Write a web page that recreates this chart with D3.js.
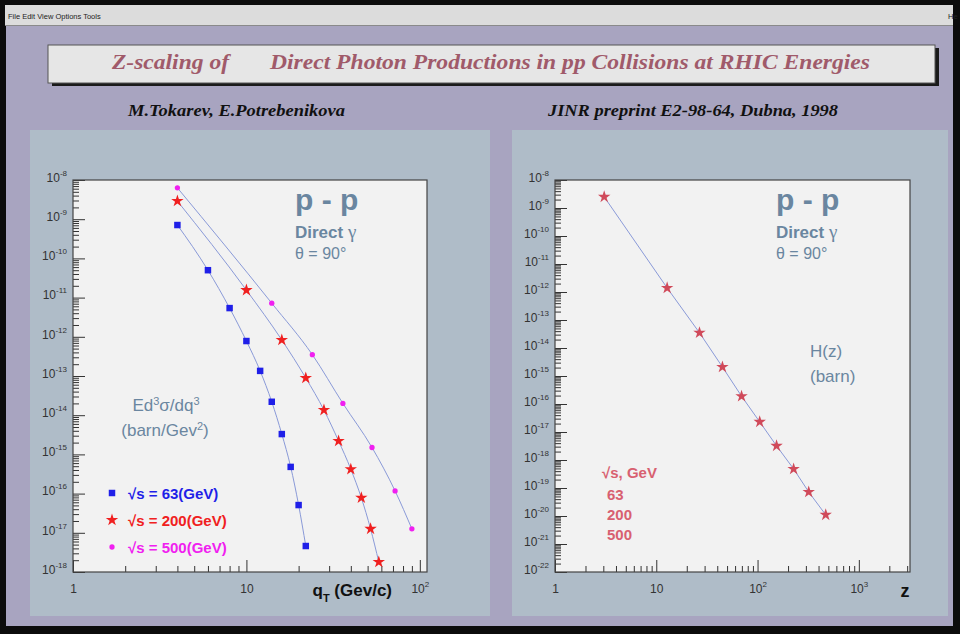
<!DOCTYPE html>
<html>
<head>
<meta charset="utf-8">
<script src="https://cdn.jsdelivr.net/npm/d3@7"></script>
<style>
  html, body { margin: 0; padding: 0; background: #0c0c0c; }
  svg { display: block; }
</style>
</head>
<body>
<svg id="chart" width="960" height="634"></svg>
<script>
// ---- data: invariant cross section Ed3σ/dq3 vs qT (barn/GeV^2) ----
const qt63 = [4, 6, 8, 10, 12, 14, 16, 18, 20, 22];
const xs63 = [7.1e-10, 5.0e-11, 5.4e-12, 7.8e-13, 1.35e-13, 2.2e-14, 3.3e-15, 4.8e-16, 5.1e-17, 4.6e-18];

const qt200 = [4, 10, 16, 22, 28, 34, 40, 46, 52, 58];
const xs200 = [2.9e-9, 1.55e-11, 8.3e-13, 8.9e-14, 1.35e-14, 2.2e-15, 4.2e-16, 7.8e-17, 1.26e-17, 1.8e-18];

const qt500 = [4, 14, 24, 36, 53, 72, 90];
const xs500 = [6.3e-9, 7.2e-12, 3.5e-13, 2.0e-14, 1.5e-15, 1.17e-16, 1.26e-17];

// ---- scaling function H(z) (barn) ----
const zVals = [3.06, 12.8, 26.7, 45, 69.5, 105, 154, 227, 320, 471];
const hVals = [2.5e-9, 1.4e-12, 3.5e-14, 2.1e-15, 1.9e-16, 2.3e-17, 3.2e-18, 4.8e-19, 7.2e-20, 1.1e-20];

const legendLabels = ["\u221As = 63(GeV)", "\u221As = 200(GeV)", "\u221As = 500(GeV)"];
const energyLabels = ["63", "200", "500"];

const leftXTicks = [1, 10, 100];
const leftYTicks = d3.range(-18, -7).map(e => Math.pow(10, e));
const rightXTicks = [1, 10, 100, 1000];
const rightYTicks = d3.range(-22, -7).map(e => Math.pow(10, e));

const svg = d3.select("#chart");
const SANS = "'Liberation Sans', Arial, Helvetica, sans-serif";
const SERIF = "'Liberation Serif', 'Times New Roman', serif";
const ANNOT = "#6a86a0";

// ---- window frame ----
svg.append("rect").attr("x", 5).attr("y", 5).attr("width", 948).attr("height", 21).attr("fill", "#dcdcdc");
svg.append("line").attr("x1", 5).attr("x2", 953).attr("y1", 25.5).attr("y2", 25.5).attr("stroke", "#8a8a8a");
svg.append("text").attr("x", 8).attr("y", 19).attr("font-family", SANS).attr("font-size", 7.5).attr("fill", "#222")
  .text("File  Edit  View  Options  Tools");
svg.append("text").attr("x", 948).attr("y", 19).attr("font-family", SANS).attr("font-size", 7.5).attr("fill", "#222").text("He");
svg.append("rect").attr("x", 6).attr("y", 26).attr("width", 947).attr("height", 600).attr("fill", "#a8a4c0");

// ---- title box ----
svg.append("rect").attr("x", 52).attr("y", 48).attr("width", 887).attr("height", 38).attr("fill", "#1a1a1a");
svg.append("rect").attr("x", 48).attr("y", 45).attr("width", 887).attr("height", 38)
  .attr("fill", "#e6e6e6").attr("stroke", "#555").attr("stroke-width", 1);
function titleText(x, len, str) {
  svg.append("text").attr("x", x).attr("y", 69).attr("font-family", SERIF).attr("font-size", 22)
    .attr("font-style", "italic").attr("font-weight", "bold").attr("fill", "#a05a6a")
    .attr("textLength", len).attr("lengthAdjust", "spacingAndGlyphs").text(str);
}
titleText(112, 117, "Z-scaling of");
titleText(270, 600, "Direct Photon Productions in pp Collisions at RHIC Energies");

function subText(x, len, str) {
  svg.append("text").attr("x", x).attr("y", 116).attr("font-family", SERIF)
    .attr("font-size", 16).attr("font-style", "italic").attr("font-weight", "bold").attr("fill", "#111")
    .attr("textLength", len).attr("lengthAdjust", "spacingAndGlyphs").text(str);
}
subText(128, 217, "M.Tokarev, E.Potrebenikova");
subText(548, 290, "JINR preprint E2-98-64, Dubna, 1998");

// ---- panels ----
svg.append("rect").attr("x", 30).attr("y", 130).attr("width", 460).attr("height", 486).attr("fill", "#afbcc8");
svg.append("rect").attr("x", 512).attr("y", 130).attr("width", 436).attr("height", 486).attr("fill", "#afbcc8");

// power-of-ten label with superscript exponent
function powLabel(sel, v) {
  const e = Math.round(Math.log10(v));
  sel.text(null);
  if (e === 0) { sel.text("1"); return; }
  if (e === 1) { sel.text("10"); return; }
  sel.append("tspan").text("10");
  sel.append("tspan").attr("dy", -6).attr("font-size", 8).text(String(e));
}

function minorTicks(domain) {
  const out = [];
  const lo = Math.floor(Math.log10(domain[0])), hi = Math.ceil(Math.log10(domain[1]));
  for (let e = lo; e < hi; e++) {
    for (let m = 2; m <= 9; m++) {
      const v = m * Math.pow(10, e);
      if (v >= domain[0] && v <= domain[1]) out.push(v);
    }
  }
  return out;
}

function drawFrame(g, x, y, xTicks, yTicks) {
  const [x0, x1] = x.range(), [y1, y0] = y.range();
  g.append("rect").attr("x", x0).attr("y", y0).attr("width", x1 - x0).attr("height", y1 - y0)
    .attr("fill", "#f2f2f2");
  // minor ticks
  g.append("g").attr("transform", `translate(0,${y1})`)
    .call(d3.axisBottom(x).tickValues(minorTicks(x.domain())).tickSize(-6).tickFormat(""))
    .call(a => a.select(".domain").remove())
    .selectAll("line").attr("stroke", "#333");
  g.append("g").attr("transform", `translate(${x0},0)`)
    .call(d3.axisLeft(y).tickValues(minorTicks(y.domain())).tickSize(-6).tickFormat(""))
    .call(a => a.select(".domain").remove())
    .selectAll("line").attr("stroke", "#333");
  // major ticks with labels
  const ax = g.append("g").attr("transform", `translate(0,${y1})`)
    .call(d3.axisBottom(x).tickValues(xTicks).tickSize(-12).tickPadding(12));
  ax.select(".domain").remove();
  ax.selectAll("line").attr("stroke", "#333");
  ax.selectAll("text").attr("font-family", SANS).attr("font-size", 12).attr("fill", "#333")
    .each(function (d) { powLabel(d3.select(this), d); });
  const ay = g.append("g").attr("transform", `translate(${x0},0)`)
    .call(d3.axisLeft(y).tickValues(yTicks).tickSize(-12).tickPadding(6));
  ay.select(".domain").remove();
  ay.selectAll("line").attr("stroke", "#333");
  ay.selectAll("text").attr("font-family", SANS).attr("font-size", 12).attr("fill", "#333")
    .attr("dy", "0.1em")
    .each(function (d) { powLabel(d3.select(this), d); });
  g.append("rect").attr("x", x0).attr("y", y0).attr("width", x1 - x0).attr("height", y1 - y0)
    .attr("fill", "none").attr("stroke", "#444").attr("stroke-width", 1.2);
}

// ---- left plot: cross sections ----
const gl = svg.append("g");
const xL = d3.scaleLog().domain([1, 110]).range([73, 427]);
const yL = d3.scaleLog().domain([1e-18, 1e-8]).range([572, 180]);
drawFrame(gl, xL, yL, leftXTicks, leftYTicks);

const lineL = d3.line().x(d => xL(d[0])).y(d => yL(d[1])).curve(d3.curveMonotoneX);
const series = [
  { q: qt63, v: xs63, color: "#1f1fe8", sym: d3.symbolSquare, size: 42 },
  { q: qt200, v: xs200, color: "#f02020", sym: d3.symbolStar, size: 48 },
  { q: qt500, v: xs500, color: "#f020f0", sym: d3.symbolCircle, size: 22 }
];
series.forEach(s => {
  const pts = d3.zip(s.q, s.v);
  gl.append("path").attr("d", lineL(pts)).attr("fill", "none").attr("stroke", "#8a9ad8").attr("stroke-width", 1);
  gl.selectAll(null).data(pts).enter().append("path")
    .attr("transform", d => `translate(${xL(d[0])},${yL(d[1])})`)
    .attr("d", d3.symbol(s.sym, s.size)).attr("fill", s.color);
});

gl.append("text").attr("x", 392).attr("y", 596).attr("text-anchor", "end").attr("font-family", SANS)
  .attr("font-size", 17).attr("font-weight", "bold").attr("fill", "#111")
  .call(t => { t.append("tspan").text("q"); t.append("tspan").attr("dy", 6).attr("font-size", 11).text("T");
               t.append("tspan").attr("dy", -6).text(" (Gev/c)"); });

// p-p / direct photon annotation block
function ppBlock(g, x) {
  g.append("text").attr("x", x).attr("y", 210).attr("font-family", SANS).attr("font-size", 30)
    .attr("font-weight", "bold").attr("fill", ANNOT).text("p - p");
  g.append("text").attr("x", x).attr("y", 238).attr("font-family", SANS).attr("font-size", 17)
    .attr("font-weight", "bold").attr("fill", ANNOT)
    .call(t => { t.append("tspan").text("Direct "); t.append("tspan").attr("font-weight", "normal").attr("font-family", SERIF).attr("font-size", 19).text(" \u03B3"); });
  g.append("text").attr("x", x).attr("y", 259).attr("font-family", SANS).attr("font-size", 16)
    .attr("fill", ANNOT).text("\u03B8 = 90\u00B0");
}
ppBlock(gl, 295);

gl.append("text").attr("x", 166).attr("y", 411).attr("text-anchor", "middle").attr("font-family", SANS)
  .attr("font-size", 17).attr("fill", ANNOT)
  .call(t => { t.append("tspan").text("Ed"); t.append("tspan").attr("dy", -6).attr("font-size", 11).text("3");
               t.append("tspan").attr("dy", 6).text("\u03C3/dq"); t.append("tspan").attr("dy", -6).attr("font-size", 11).text("3"); });
gl.append("text").attr("x", 165).attr("y", 436).attr("text-anchor", "middle").attr("font-family", SANS)
  .attr("font-size", 17).attr("fill", ANNOT)
  .call(t => { t.append("tspan").text("(barn/Gev"); t.append("tspan").attr("dy", -6).attr("font-size", 11).text("2");
               t.append("tspan").attr("dy", 6).text(")"); });

// legend
series.forEach((s, i) => {
  const yy = 493 + i * 27;
  gl.append("path").attr("transform", `translate(112,${yy})`).attr("d", d3.symbol(s.sym, s.size)).attr("fill", s.color);
  gl.append("text").attr("x", 128).attr("y", yy + 6).attr("font-family", SANS).attr("font-size", 15)
    .attr("font-weight", "bold").attr("fill", s.color).text(legendLabels[i]);
});

// ---- right plot: H(z) ----
const gr = svg.append("g");
const xR = d3.scaleLog().domain([1, 3200]).range([555, 910]);
const yR = d3.scaleLog().domain([1e-22, 1e-8]).range([572, 180]);
drawFrame(gr, xR, yR, rightXTicks, rightYTicks);

const ptsR = d3.zip(zVals, hVals);
const lineR = d3.line().x(d => xR(d[0])).y(d => yR(d[1]));
gr.append("path").attr("d", lineR(ptsR)).attr("fill", "none").attr("stroke", "#8a9ad8").attr("stroke-width", 1);
gr.selectAll(null).data(ptsR).enter().append("path")
  .attr("transform", d => `translate(${xR(d[0])},${yR(d[1])})`)
  .attr("d", d3.symbol(d3.symbolStar, 48)).attr("fill", "#d04a5a");

gr.append("text").attr("x", 905).attr("y", 597).attr("text-anchor", "middle").attr("font-family", SANS)
  .attr("font-size", 18).attr("font-weight", "bold").attr("fill", "#111").text("z");

ppBlock(gr, 776);
gr.append("text").attr("x", 810).attr("y", 357).attr("font-family", SANS).attr("font-size", 17)
  .attr("fill", ANNOT).text("H(z)");
gr.append("text").attr("x", 810).attr("y", 382).attr("font-family", SANS).attr("font-size", 17)
  .attr("fill", ANNOT).text("(barn)");

const RL = "#d86070";
gr.append("text").attr("x", 602).attr("y", 478).attr("font-family", SANS).attr("font-size", 15)
  .attr("font-weight", "bold").attr("fill", RL).text("\u221As, GeV");
energyLabels.forEach((t, i) => {
  gr.append("text").attr("x", 607).attr("y", 500 + i * 20).attr("font-family", SANS).attr("font-size", 15)
    .attr("font-weight", "bold").attr("fill", RL).text(t);
});
</script>
</body>
</html>
